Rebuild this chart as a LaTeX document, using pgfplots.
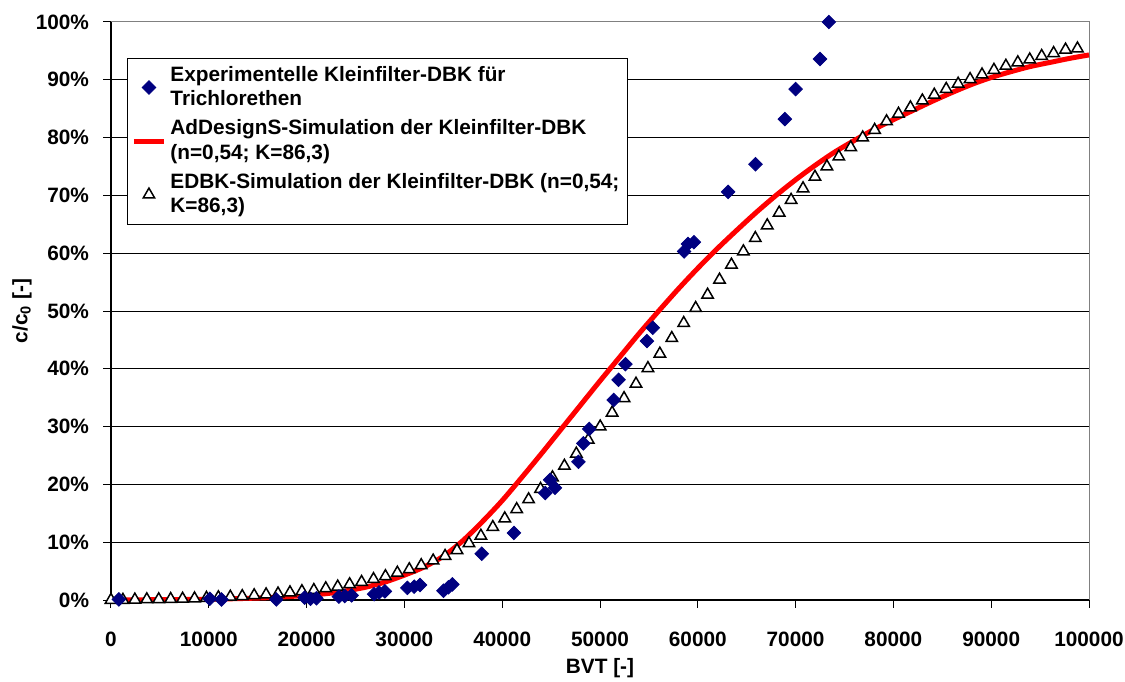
\documentclass[border=0pt]{standalone}
\usepackage{pgfplots}
\pgfplotsset{compat=1.18}
\usepackage{fontspec}
\setmainfont{Liberation Sans}
\definecolor{navy}{RGB}{0,0,128}
\definecolor{framegray}{RGB}{128,128,128}
\newcommand\lbl{\fontsize{10.4}{12.25}\selectfont\bfseries}

\begin{document}
\begin{tikzpicture}[x=1pt,y=1pt]
\path[use as bounding box] (-55.5,-40.5) rectangle (507,300);
\begin{axis}[
  at={(0,0)}, anchor=south west,
  scale only axis, width=489pt, height=289pt,
  xmin=0, xmax=100000, ymin=0, ymax=100,
  clip=false,
  axis line style={draw=none},
  xtick={0,10000,...,100000},
  ytick={0,10,...,100},
  scaled x ticks=false,
  /pgf/number format/fixed,
  /pgf/number format/precision=0,
  /pgf/number format/1000 sep={},
  /pgf/number format/assume math mode=true,
  xticklabel={\pgfmathprintnumber[fixed,precision=0,1000 sep={}]{\tick}},
  yticklabel={\pgfmathprintnumber[fixed,precision=0]{\tick}\%},
  tick align=outside,
  xtick pos=bottom, ytick pos=left,
  major tick length=3.8pt,
  tick style={black, line width=0.5pt},
  ymajorgrids,
  major grid style={black, line width=0.5pt},
  every tick label/.append style={font=\lbl},
  xticklabel style={anchor=center, inner sep=0pt, yshift=-15.8pt},
  yticklabel style={anchor=east, inner sep=0pt, xshift=-7pt},
  xlabel={BVT [-]},
  ylabel={c/c\textsubscript{0} [-]},
  label style={font=\lbl},
  x label style={at={(axis description cs:0.5,-0.117)}, anchor=center},
  y label style={at={(axis description cs:-0.091,0.5)}, anchor=center},
  legend image code/.code={\draw[mark repeat=2,mark phase=2,#1] plot coordinates {(0pt,0pt) (7.5pt,0pt) (15pt,0pt)};},
  legend cell align=left,
  legend style={at={(axis description cs:0.0164,0.938)}, anchor=north west,
    draw=black, fill=white, font=\lbl,
    inner xsep=2pt, inner ysep=2pt, row sep=1.5pt,
    cells={anchor=west, align=left, inner xsep=1pt}},
]

% plot frame: grey top and right, black axes left and bottom
\draw[framegray, line width=0.5pt] (rel axis cs:0,1) -- (rel axis cs:1,1) -- (rel axis cs:1,0);
\draw[black, line width=0.6pt] (rel axis cs:0,1) -- (rel axis cs:0,0) -- (rel axis cs:1,0);

% legend entries
\addlegendimage{only marks, mark=square*, mark size=2.4pt, mark options={rotate=45, fill=navy, draw=navy}}
\addlegendentry{Experimentelle Kleinfilter-DBK für\\Trichlorethen}
\addlegendimage{red, line width=2.5pt}
\addlegendentry{AdDesignS-Simulation der Kleinfilter-DBK\\(n=0,54; K=86,3)}
\addlegendimage{only marks, mark=triangle*, mark size=3.3pt, mark options={fill=white, draw=black, line width=0.75pt}}
\addlegendentry{EDBK-Simulation der Kleinfilter-DBK (n=0,54;\\K=86,3)}

% AdDesignS simulation
\addplot[red, line width=2.5pt, line join=round, smooth, forget plot] coordinates {
(0,0) (4000,0.05) (8000,0.1) (12000,0.2) (16000,0.4) (20000,0.8)
(23000,1.3) (26000,2.2) (28000,3.1) (30000,4.3) (32000,5.7)
(34000,7.6) (36000,10.3) (38000,13.6) (40000,17.2) (42000,21.2)
(44000,25.3) (46000,29.5) (48000,33.7) (50000,37.9) (52000,42.0)
(54000,46.1) (56000,50.0) (58000,53.8) (60000,57.4) (62000,60.8)
(64000,64.0) (66000,67.1) (68000,70.0) (70000,72.7) (72000,75.2)
(74000,77.5) (76000,79.5) (78000,81.4) (80000,83.1) (82000,84.7)
(84000,86.3) (86000,87.8) (88000,89.2) (90000,90.4) (92000,91.4)
(94000,92.3) (96000,93.0) (98000,93.7) (100000,94.3)
};

% EDBK simulation
\addplot[only marks, mark=triangle*, mark size=3.3pt, mark options={fill=white, draw=black, line width=0.75pt}, forget plot] coordinates {
(0,0.0) (1220,0.0) (2440,0.05) (3660,0.1) (4880,0.1) (6100,0.15)
(7320,0.2) (8540,0.25) (9760,0.35) (10980,0.45) (12200,0.55)
(13420,0.65) (14640,0.8) (15860,0.95) (17080,1.1) (18300,1.3)
(19520,1.5) (20740,1.7) (21960,2.0) (23180,2.3) (24400,2.7)
(25620,3.1) (26840,3.6) (28060,4.1) (29280,4.7) (30500,5.3)
(31720,6.0) (32940,6.8) (34160,7.6) (35380,8.6) (36600,9.8)
(37820,11.1) (39040,12.6) (40260,14.1) (41480,15.7) (42700,17.4)
(43920,19.2) (45140,21.2) (46360,23.2) (47580,25.3) (48800,27.7)
(50020,30.0) (51240,32.4) (52460,34.9) (53680,37.4) (54900,40.1)
(56120,42.6) (57340,45.3) (58560,47.9) (59780,50.5) (61000,52.8)
(62220,55.4) (63440,58.0) (64660,60.3) (65880,62.6) (67100,64.8)
(68320,67.0) (69540,69.2) (70760,71.2) (71980,73.2) (73200,75.0)
(74420,76.7) (75640,78.3) (76860,80.0) (78080,81.3) (79300,82.8)
(80520,84.1) (81740,85.2) (82960,86.4) (84180,87.4) (85400,88.4)
(86620,89.3) (87840,90.1) (89060,90.9) (90280,91.7) (91500,92.4)
(92720,93.0) (93940,93.5) (95160,94.1) (96380,94.6) (97600,95.2)
(98820,95.4)
};

% experimental breakthrough curve
\addplot[only marks, mark=square*, mark size=2.4pt, mark options={rotate=45, fill=navy, draw=navy}, forget plot] coordinates {
(800,0.1) (10100,0.2) (11300,0.1) (16900,0.1) (19800,0.4) (20400,0.2)
(21000,0.3) (23300,0.6) (23900,0.7) (24600,0.8) (26900,1.0) (27400,1.3)
(28000,1.5) (30300,2.1) (31000,2.3) (31600,2.6) (34000,1.6) (34500,2.2)
(34900,2.7) (37900,8.0) (41200,11.6) (44400,18.5) (44900,20.8) (45400,19.4)
(47800,23.9) (48300,27.1) (48900,29.6) (51400,34.6) (51900,38.1) (52600,40.8)
(54800,44.8) (55400,47.1) (58600,60.3) (59000,61.6) (59600,61.9) (63100,70.6)
(65900,75.4) (68900,83.2) (70000,88.4) (72500,93.6) (73400,100)
};
\end{axis}
\end{tikzpicture}
\end{document}
